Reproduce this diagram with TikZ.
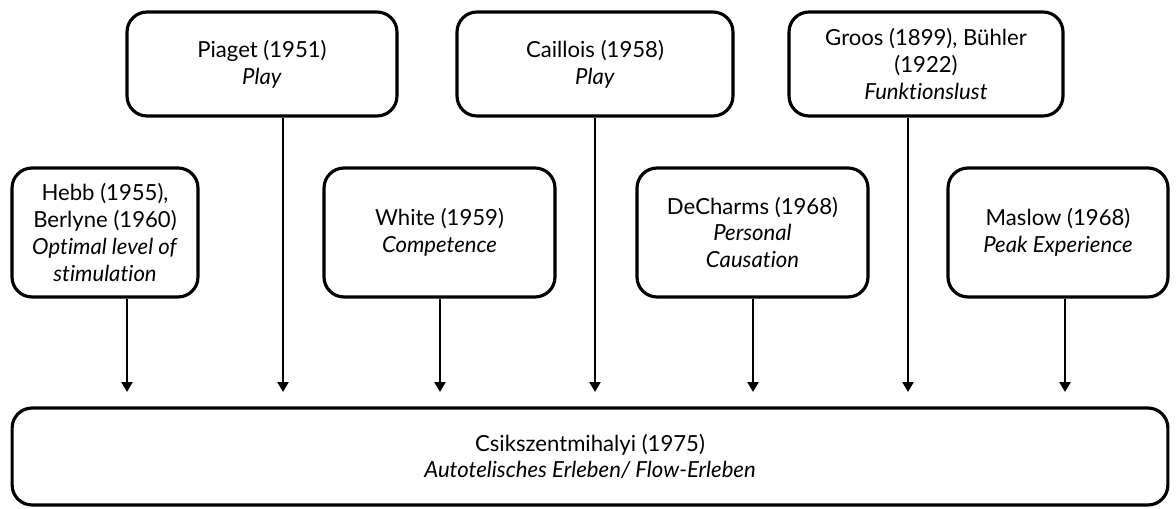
\documentclass[tikz,border=0pt]{standalone}
\usepackage{fontspec}
\setmainfont{Lato}[Ligatures=NoCommon]
\usetikzlibrary{arrows.meta}
\begin{document}
\begin{tikzpicture}[x=0.02cm,y=-0.02cm,
		box/.style={draw, line width=1.8pt, rounded corners=0.4cm, align=center,
			font=\fontsize{12.6}{15.2}\selectfont, inner sep=0pt},
		flow/.style={-{Triangle[length=0.2cm,width=0.22cm]}, line width=1.5pt}]
		\useasboundingbox (0,0) rectangle (1176,509);

		\node[box, minimum width=5.4cm, minimum height=2.08cm] (piaget) at (262,64)
			{Piaget (1951)\\\textit{Play}};
		\node[box, minimum width=5.52cm, minimum height=2.08cm] (caillois) at (595,64)
			{Caillois (1958)\\\textit{Play}};
		\node[box, minimum width=5.48cm, minimum height=2.08cm] (groos) at (926,64)
			{Groos (1899), B\"uhler\\(1922)\\\textit{Funktionslust}};

		\node[box, minimum width=3.72cm, minimum height=2.58cm] (hebb) at (105,232.5)
			{Hebb (1955),\\Berlyne (1960)\\\textit{Optimal level of}\\\textit{stimulation}};
		\node[box, minimum width=4.62cm, minimum height=2.58cm] (white) at (439.5,232.5)
			{White (1959)\\\textit{Competence}};
		\node[box, minimum width=4.62cm, minimum height=2.58cm] (decharms) at (752.5,232.5)
			{DeCharms (1968)\\\textit{Personal}\\\textit{Causation}};
		\node[box, minimum width=4.4cm, minimum height=2.58cm] (maslow) at (1058,232.5)
			{Maslow (1968)\\\textit{Peak Experience}};

		\node[box, minimum width=23.12cm, minimum height=1.94cm] (flow) at (590,456.5)
			{Csikszentmihalyi (1975)\\\textit{Autotelisches Erleben/ Flow-Erleben}};

		\coordinate (t1) at (127,392);
		\coordinate (t2) at (283,392);
		\coordinate (t3) at (440,392);
		\coordinate (t4) at (595,392);
		\coordinate (t5) at (753,392);
		\coordinate (t6) at (908,392);
		\coordinate (t7) at (1065,392);

		\draw[flow] (hebb.south -| t1) -- (t1);
		\draw[flow] (piaget.south -| t2) -- (t2);
		\draw[flow] (white.south -| t3) -- (t3);
		\draw[flow] (caillois.south -| t4) -- (t4);
		\draw[flow] (decharms.south -| t5) -- (t5);
		\draw[flow] (groos.south -| t6) -- (t6);
		\draw[flow] (maslow.south -| t7) -- (t7);
	\end{tikzpicture}
\end{document}
